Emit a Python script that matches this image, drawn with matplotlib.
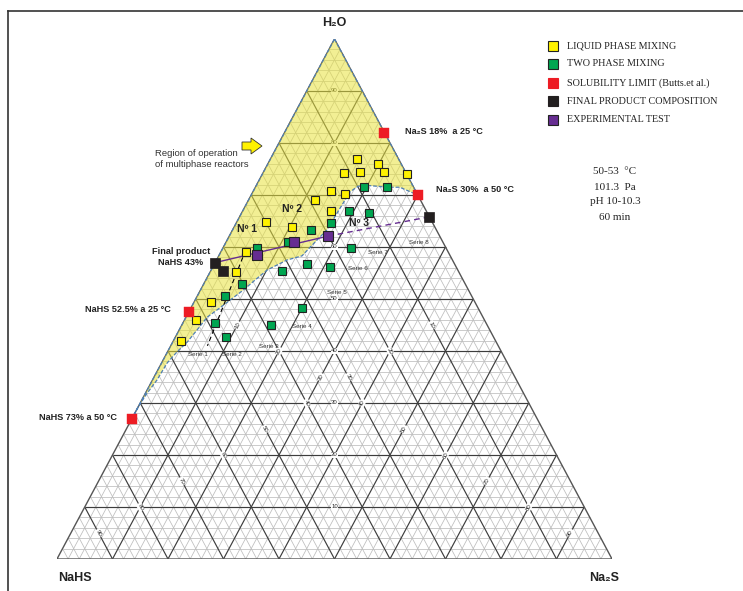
import numpy as np
import matplotlib.pyplot as plt
from matplotlib.collections import LineCollection
from matplotlib.patches import Polygon, FancyArrow
from matplotlib.lines import Line2D

plt.rcParams['font.family'] = ['Liberation Sans', 'DejaVu Sans']

# compositions in % (H2O, Na2S); NaHS is the remainder
liquid_h2o = [76.9, 76.0, 74.3, 74.4, 74.4, 74.1, 70.8, 70.2, 69.0, 66.9, 64.8, 63.8, 59.0, 55.2, 49.4, 46.0, 42.0]
liquid_na2s = [15.6, 19.8, 14.6, 17.4, 21.8, 26.0, 13.9, 16.8, 12.0, 15.9, 5.2, 10.4, 4.5, 4.7, 3.0, 2.0, 1.3]

two_h2o = [71.5, 71.5, 66.9, 66.5, 64.7, 63.3, 61.0, 59.9, 59.9, 56.8, 56.2, 55.4, 52.8, 50.6, 48.3, 45.0, 45.3, 42.7]
two_na2s = [19.5, 23.7, 19.1, 22.9, 17.0, 14.1, 11.2, 6.0, 23.0, 16.7, 21.1, 12.9, 7.0, 4.9, 20.0, 16.1, 5.9, 9.1]

sol_h2o = [82.0, 70.0, 47.5, 27.0]
sol_na2s = [18.0, 30.0, 0.0, 0.0]

final_h2o = [57.0, 55.3, 65.8]
final_na2s = [0.0, 2.3, 34.2]

exp_h2o = [58.4, 60.9, 62.1]
exp_na2s = [6.8, 12.3, 17.8]

# lower limit of the operating region (from Na2S 30% at 50 C to NaHS 73% at 50 C)
region_h2o = [70.0, 71.5, 71.5, 71.8, 71.7, 70.6, 66.5, 63.3, 60.4, 58.3, 57.5, 55.6, 53.7,
              51.7, 49.8, 47.9, 46.5, 44.0, 41.7, 39.8, 37.7, 34.4, 31.9, 29.2, 27.0]
region_na2s = [30.0, 26.0, 23.7, 20.5, 18.4, 17.5, 17.2, 17.0, 15.8, 15.0, 12.7, 10.1, 8.9,
               7.7, 6.3, 4.9, 3.8, 3.2, 2.6, 1.7, 1.0, 0.8, 0.3, 0.0, 0.0]

serie1_h2o = [59.4, 41.0]
serie1_na2s = [4.3, 6.6]

W, H = 743, 591
X0, X1, YB, YT = 57, 612, 559, 39

fig = plt.figure(figsize=(W / 100, H / 100), dpi=100)
ax = fig.add_axes([X0 / W, (H - YB) / H, (X1 - X0) / W, (YB - YT) / H])
ax.set_xlim(0, 1)
ax.set_ylim(0, 1)
ax.axis('off')


def tern(h2o, na2s):
    h = np.asarray(h2o, dtype=float) / 100
    s = np.asarray(na2s, dtype=float) / 100
    return s + h / 2, h


def at(px, py):
    # place text using reference pixel positions
    return (px - X0) / (X1 - X0), (YB - py) / (YB - YT)


# grid
minor, major = [], []
for v in range(2, 100, 2):
    segs = [
        np.column_stack(tern([v, v], [0, 100 - v])),
        np.column_stack(tern([0, 100 - v], [v, v])),
        np.column_stack(tern([100 - v, 0], [0, 100 - v])),
    ]
    (major if v % 10 == 0 else minor).extend(segs)
ax.add_collection(LineCollection(minor, colors='#bdbdbd', lw=0.55, zorder=1))
ax.add_collection(LineCollection(major, colors='#3d3d3d', lw=0.85, zorder=1.1))
ax.plot(*tern([0, 100, 0, 0], [0, 0, 100, 0]), color='#555555', lw=1.0, zorder=1.2)

ang = np.degrees(np.arctan2(YB - YT, (X1 - X0) / 2))
lab_kw = dict(fontsize=4.3, color='#222222', ha='center', va='center', zorder=1.3,
              bbox=dict(boxstyle='square,pad=0.1', fc='white', ec='none'))
for v in range(10, 100, 10):
    ax.text(*tern(v, (100 - v) / 2), str(v), rotation=0, **lab_kw)
    ax.text(*tern((100 - v) / 2, v), str(v), rotation=ang, **lab_kw)
    ax.text(*tern((100 - v) / 2, (100 - v) / 2), str(v), rotation=-ang, **lab_kw)

# operating region
rx, ry = tern([100] + region_h2o, [0] + region_na2s)
ax.add_patch(Polygon(np.column_stack([rx, ry]), closed=True, fc='#e8e23c', ec='none',
                     alpha=0.55, zorder=2))
ax.plot(np.append(rx, rx[0]), np.append(ry, ry[0]), color='#4f7fb3', lw=0.9,
        ls=(0, (3, 1.5)), zorder=3)

# serie 1 trend and operating line
ax.plot(*tern(serie1_h2o, serie1_na2s), color='black', lw=0.8, ls=(0, (4, 3)), zorder=3.5)
ax.plot(*tern([final_h2o[0], exp_h2o[2]], [final_na2s[0], exp_na2s[2]]),
        color='#662d91', lw=1.0, zorder=3.5)
ax.plot(*tern([exp_h2o[2], final_h2o[2]], [exp_na2s[2], final_na2s[2]]),
        color='#662d91', lw=1.0, ls=(0, (4, 3)), zorder=3.5)

mk = dict(ls='none', marker='s', clip_on=False, zorder=5)
ax.plot(*tern(liquid_h2o, liquid_na2s), ms=6.4, mfc='#fff200', mec='#222222', mew=0.8, **mk)
ax.plot(*tern(two_h2o, two_na2s), ms=6.4, mfc='#00a651', mec='#222222', mew=0.8, **mk)
ax.plot(*tern(sol_h2o, sol_na2s), ms=6.8, mfc='#ed1c24', mec='#ed1c24', mew=0.3, **mk)
ax.plot(*tern(final_h2o, final_na2s), ms=6.8, mfc='#231f20', mec='#231f20', mew=0.5, **mk)
ax.plot(*tern(exp_h2o, exp_na2s), ms=6.8, mfc='#662d91', mec='#222222', mew=0.8, **mk)

# vertex names
bold = dict(fontweight='bold', color='#222222', ha='center', va='center')
ax.text(*at(334, 23), 'H₂O', fontsize=9, **bold)
ax.text(*at(75, 578), 'NaHS', fontsize=9, **bold)
ax.text(*at(604, 578), 'Na₂S', fontsize=9, **bold)

ann = dict(fontsize=6.6, fontweight='bold', color='#222222', va='center')
ax.text(*at(405, 131), 'Na₂S 18%  a 25 °C', ha='left', **ann)
ax.text(*at(436, 190), 'Na₂S 30%  a 50 °C', ha='left', **ann)
ax.text(*at(171, 310), 'NaHS 52.5% a 25 °C', ha='right', **ann)
ax.text(*at(117, 418), 'NaHS 73% a 50 °C', ha='right', **ann)
ax.text(*at(181, 257), 'Final product\nNaHS 43%', ha='center', linespacing=1.3, **ann)
ax.text(*at(155, 159), 'Region of operation\nof multiphase reactors', ha='left', va='center',
        fontsize=6.8, color='#333333', linespacing=1.25)

for txt, (px, py) in zip(['Nº 1', 'Nº 2', 'Nº 3'], [(247, 229), (292, 209), (359, 223)]):
    ax.text(*at(px, py), txt, fontsize=7.5, fontweight='bold', color='#222222',
            ha='center', va='center', zorder=6)

serie_pos = [(198, 354), (232, 355), (269, 347), (302, 327), (337, 293), (358, 268), (378, 253), (419, 242)]
for i, (px, py) in enumerate(serie_pos):
    ax.text(*at(px, py), f'Serie {i + 1}', fontsize=4.5, color='#333333',
            ha='center', va='center', zorder=6)

# arrow
ax0, ay0 = at(242, 146)
ax1, _ = at(262, 146)
ax.add_patch(FancyArrow(ax0, ay0, ax1 - ax0, 0, width=8 / (YB - YT), head_width=16 / (YB - YT),
                        head_length=11 / (X1 - X0), length_includes_head=True,
                        fc='#fff200', ec='#333333', lw=0.6, clip_on=False, zorder=6))

# legend
serif = ['Liberation Serif', 'DejaVu Serif']
legend_items = [('#fff200', '#222222', 'LIQUID PHASE MIXING'),
                ('#00a651', '#222222', 'TWO PHASE MIXING'),
                ('#ed1c24', '#ed1c24', 'SOLUBILITY LIMIT (Butts.et al.)'),
                ('#231f20', '#231f20', 'FINAL PRODUCT COMPOSITION'),
                ('#662d91', '#222222', 'EXPERIMENTAL TEST')]
for (fc, ec, label), py in zip(legend_items, [46, 64, 83, 101, 120]):
    ax.plot(*at(553, py), marker='s', ms=7.5, mfc=fc, mec=ec, mew=0.8, clip_on=False, zorder=6)
    ax.text(*at(567, py), label, family=serif, fontsize=7.3,
            color='#222222', va='center', ha='left')

cond = ['50-53  °C', '101.3  Pa', 'pH 10-10.3', '60 min']
for txt, py in zip(cond, [172, 187, 202, 218]):
    ax.text(*at(615, py), txt, family=serif, fontsize=8,
            color='#222222', ha='center', va='center')

# frame lines of the original panel
fig.add_artist(Line2D([8 / W, 1], [1 - 11 / H, 1 - 11 / H], color='#333333', lw=1.2))
fig.add_artist(Line2D([8 / W, 8 / W], [0, 1 - 11 / H], color='#333333', lw=1.2))

fig.savefig('out.png', dpi=100)
